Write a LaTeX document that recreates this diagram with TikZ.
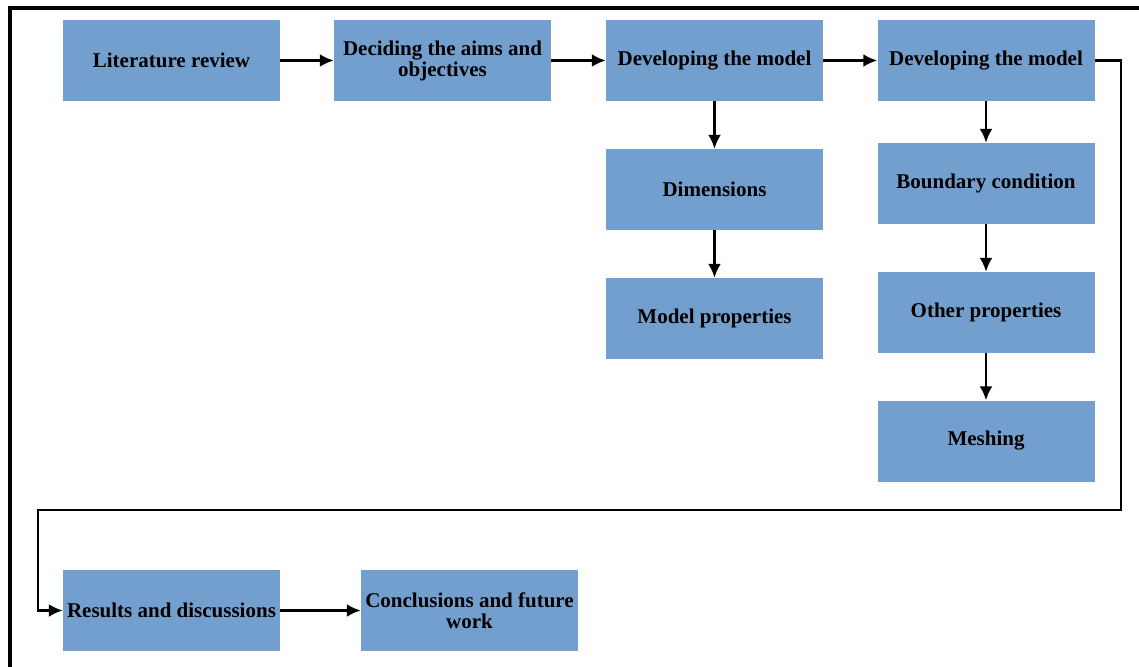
\documentclass[tikz,border=0pt]{standalone}
\usepackage{fontspec}
\setmainfont{Liberation Serif}
\usetikzlibrary{arrows.meta}
\definecolor{boxblue}{RGB}{115,159,207}

\begin{document}
\begin{tikzpicture}[x=1pt,y=-1pt,
    block/.style={fill=boxblue,minimum width=217pt,minimum height=81pt,inner sep=0pt,
                  align=center,font=\fontsize{21}{21}\selectfont\bfseries},
    flow/.style={line width=2.6pt,-{Latex[length=14pt,width=13pt]}}]
    \useasboundingbox (0,0) rectangle (1139,666);
    % Rahmen
    \draw[line width=3.5pt] (10,700) -- (10,8) -- (1160,8);

    % Obere Reihe
    \node[block] (lit) at (171.5, 60.5) {Literature review};
    \node[block] (aims) at (442.5, 60.5) {Deciding the aims and\\objectives};
    \node[block] (dev1) at (714.5, 60.5) {Developing the model};
    \node[block] (dev2) at (986, 60.5) {Developing the model};
    \draw[flow] (lit) -- (aims);
    \draw[flow] (aims) -- (dev1);
    \draw[flow] (dev1) -- (dev2);

    % Modell
    \node[block] (dim) at (714.5, 189.5) {Dimensions};
    \node[block] (prop) at (714.5, 318.5) {Model properties};
    \draw[flow] (dev1) -- (dim);
    \draw[flow] (dim) -- (prop);

    % Randbedingungen
    \node[block] (bc) at (986, 183.5) {Boundary condition};
    \node[block] (other) at (986, 312.5) {Other properties};
    \node[block] (mesh) at (986, 441) {Meshing};
    \draw[flow] (dev2) -- (bc);
    \draw[flow] (bc) -- (other);
    \draw[flow] (other) -- (mesh);

    % Ergebnisse
    \node[block] (res) at (171.5, 610.5) {Results and discussions};
    \node[block] (concl) at (469.5, 610.5) {Conclusions and future\\work};
    \coordinate (turnR) at (1121, 510);
    \coordinate (turnL) at (38, 510);
    \draw[flow] (dev2.east) -| (turnR) -- (turnL) |- (res.west);
    \draw[flow] (res) -- (concl);
\end{tikzpicture}
\end{document}
